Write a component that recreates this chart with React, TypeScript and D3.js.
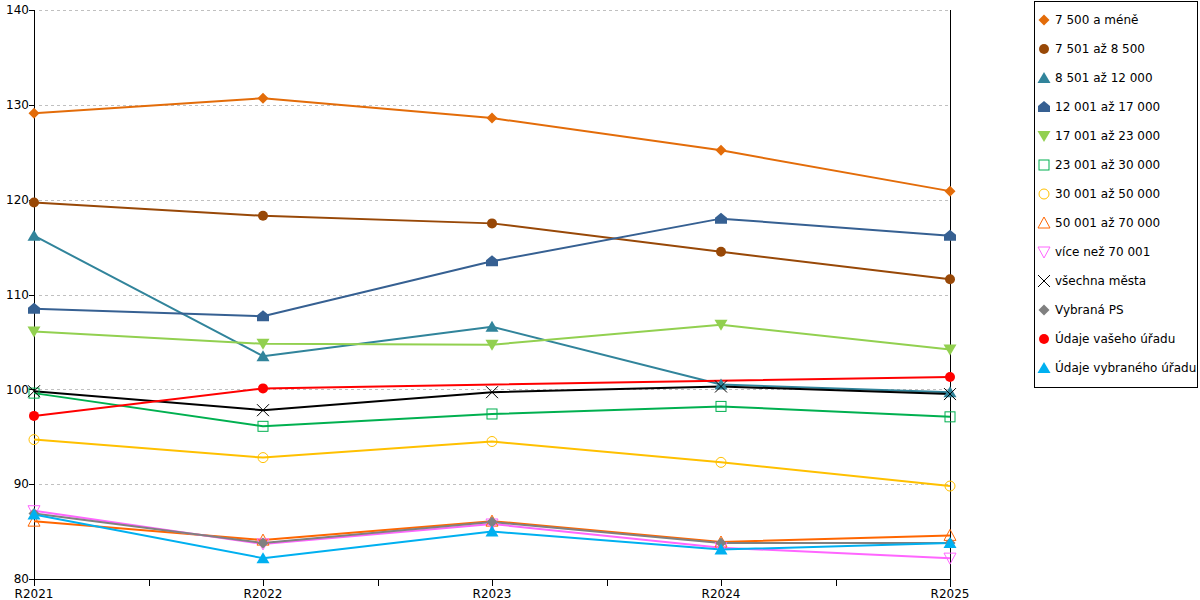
import * as React from 'react';
import * as d3 from 'd3';

const categories = ['R2021', 'R2022', 'R2023', 'R2024', 'R2025'];
const yTicks = [80, 90, 100, 110, 120, 130, 140];

const names = [
  '7 500 a méně',
  '7 501 až 8 500',
  '8 501 až 12 000',
  '12 001 až 17 000',
  '17 001 až 23 000',
  '23 001 až 30 000',
  '30 001 až 50 000',
  '50 001 až 70 000',
  'více než 70 001',
  'všechna města',
  'Vybraná PS',
  'Údaje vašeho úřadu',
  'Údaje vybraného úřadu',
];

const do7500 = [129.1, 130.7, 128.6, 125.2, 120.9];
const do8500 = [119.7, 118.3, 117.5, 114.5, 111.6];
const do12000 = [116.2, 103.5, 106.6, 100.5, 99.7];
const do17000 = [108.5, 107.7, 113.5, 118.0, 116.2];
const do23000 = [106.1, 104.8, 104.7, 106.8, 104.2];
const do30000 = [99.6, 96.1, 97.4, 98.2, 97.1];
const do50000 = [94.7, 92.8, 94.5, 92.3, 89.8];
const do70000 = [86.1, 84.1, 86.1, 83.9, 84.6];
const nad70001 = [87.2, 83.7, 85.8, 83.3, 82.2];
const vsechnaMesta = [99.8, 97.8, 99.7, 100.3, 99.5];
const vybranaPS = [86.9, 83.8, 86.0, 83.8, 83.8];
const vasUrad: (number | null)[] = [97.2, 100.1, null, null, 101.3];
const vybranyUrad = [86.8, 82.2, 85.0, 83.1, 83.8];

const values: (number | null)[][] = [
  do7500, do8500, do12000, do17000, do23000, do30000, do50000,
  do70000, nad70001, vsechnaMesta, vybranaPS, vasUrad, vybranyUrad,
];

const colors = [
  '#E36C09', '#984807', '#31849B', '#366092', '#92D050', '#00B050', '#FFC000',
  '#FF6600', '#FF66FF', '#000000', '#808080', '#FF0000', '#00B0F0',
];

type Shape =
  | 'diamond' | 'circle' | 'triangle' | 'house' | 'triDown'
  | 'squareOpen' | 'circleOpen' | 'triOpen' | 'triDownOpen' | 'x';

const shapes: Shape[] = [
  'diamond', 'circle', 'triangle', 'house', 'triDown', 'squareOpen', 'circleOpen',
  'triOpen', 'triDownOpen', 'x', 'diamond', 'circle', 'triangle',
];

const Marker: React.FC<{ shape: Shape; color: string; x: number; y: number }> = ({ shape, color, x, y }) => {
  const t = `translate(${x},${y})`;
  switch (shape) {
    case 'diamond':
      return <path transform={t} d="M0,-5.5L5.5,0L0,5.5L-5.5,0Z" fill={color} />;
    case 'circle':
      return <circle cx={x} cy={y} r={5} fill={color} />;
    case 'triangle':
      return <path transform={t} d="M0,-6L6.5,5L-6.5,5Z" fill={color} />;
    case 'house':
      return <path transform={t} d="M0,-6L6,-1L6,5L-6,5L-6,-1Z" fill={color} />;
    case 'triDown':
      return <path transform={t} d="M-6.5,-5L6.5,-5L0,6Z" fill={color} />;
    case 'squareOpen':
      return <rect x={x - 5} y={y - 5} width={10} height={10} fill="none" stroke={color} strokeWidth={1} />;
    case 'circleOpen':
      return <circle cx={x} cy={y} r={5} fill="none" stroke={color} strokeWidth={1} />;
    case 'triOpen':
      return <path transform={t} d="M0,-6L6,5L-6,5Z" fill="none" stroke={color} strokeWidth={1} />;
    case 'triDownOpen':
      return <path transform={t} d="M-6,-5L6,-5L0,6Z" fill="none" stroke={color} strokeWidth={1} />;
    case 'x':
      return <path transform={t} d="M-6,-6L6,6M6,-6L-6,6" fill="none" stroke={color} strokeWidth={1} />;
  }
};

export default function App() {
  const width = 1200;
  const height = 600;
  const left = 34;
  const right = 950;
  const top = 10;
  const bottom = 579;

  const x = d3.scalePoint<string>().domain(categories).range([left, right]);
  const y = d3.scaleLinear().domain([80, 140]).range([bottom, top]);
  const step = x.step();

  const line = d3
    .line<{ c: string; v: number }>()
    .x((d) => x(d.c) ?? 0)
    .y((d) => y(d.v));

  const font = 'DejaVu Sans, Verdana, sans-serif';

  return (
    <svg
      width={width}
      height={height}
      style={{ position: 'absolute', left: 0, top: 0, background: '#fff' }}
      fontFamily={font}
      fontSize={12}
    >
      {/* grid */}
      {yTicks.filter((t) => t > 80).map((t) => (
        <line key={t} x1={left + 5} x2={right} y1={Math.round(y(t)) + 0.5} y2={Math.round(y(t)) + 0.5}
          stroke="#c0c0c0" strokeDasharray="3,3" />
      ))}

      {/* axes */}
      <line x1={left + 0.5} x2={left + 0.5} y1={top} y2={bottom + 5} stroke="#000" />
      <line x1={right + 0.5} x2={right + 0.5} y1={top} y2={bottom + 8} stroke="#000" />
      <line x1={left} x2={right} y1={bottom + 0.5} y2={bottom + 0.5} stroke="#000" />
      {yTicks.map((t) => (
        <g key={t}>
          <line x1={left - 5} x2={left} y1={Math.round(y(t)) + 0.5} y2={Math.round(y(t)) + 0.5} stroke="#000" />
          <text x={left - 5} y={y(t)} dy="0.35em" textAnchor="end" fill="#000">{t}</text>
        </g>
      ))}
      {d3.range(0, categories.length * 2 - 1).map((i) => {
        const px = Math.round(left + (i * step) / 2) + 0.5;
        return <line key={i} x1={px} x2={px} y1={bottom} y2={bottom + 7} stroke="#000" />;
      })}
      {categories.map((c) => (
        <text key={c} x={x(c)} y={598} textAnchor="middle" fill="#000">{c}</text>
      ))}

      {/* series lines */}
      {values.map((vals, si) => {
        const pts = vals
          .map((v, i) => ({ c: categories[i], v }))
          .filter((d): d is { c: string; v: number } => d.v !== null);
        return (
          <path key={si} d={line(pts) ?? ''} fill="none" stroke={colors[si]} strokeWidth={2}
            strokeLinejoin="round" />
        );
      })}
      {/* markers */}
      {values.map((vals, si) => (
        <g key={si}>
          {vals.map((v, i) =>
            v === null ? null : (
              <Marker key={i} shape={shapes[si]} color={colors[si]} x={x(categories[i]) ?? 0} y={y(v)} />
            ),
          )}
        </g>
      ))}

      {/* legend */}
      <rect x={1034.5} y={1.5} width={163} height={386} fill="#fff" stroke="#000" />
      {names.map((n, i) => (
        <g key={n}>
          <Marker shape={shapes[i]} color={colors[i]} x={1044} y={20 + i * 29} />
          <text x={1055} y={20 + i * 29} dy="0.35em" fill="#000">{n}</text>
        </g>
      ))}
    </svg>
  );
}
